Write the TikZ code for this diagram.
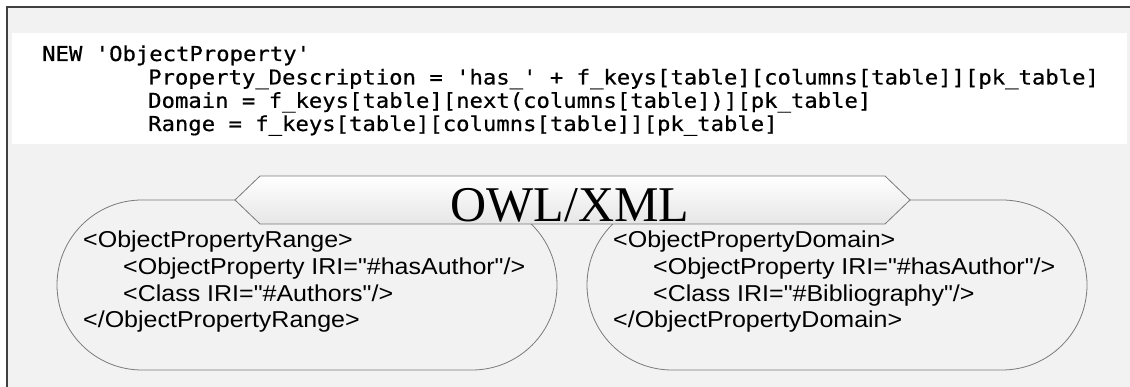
\documentclass[tikz,border=0pt]{standalone}
\usepackage{fontspec}
\setmainfont{Liberation Serif}
\setmonofont{DejaVu Sans Mono}[FakeStretch=1.085,FakeBold=0.6]
\newfontfamily\xmlfont{Liberation Sans}[FakeStretch=1.087,Ligatures=TeXOff]
\definecolor{panelgray}{HTML}{F2F2F2}
\definecolor{framegray}{HTML}{404040}
\definecolor{edgegray}{HTML}{7A7A7A}
\definecolor{bannerlow}{HTML}{E6E6E6}
\newcommand{\codeindent}{\phantom{00000000}}

\begin{document}
\begin{tikzpicture}[x=1pt,y=-1pt]
      \tikzset{every node/.style={inner sep=0pt},
        codeline/.style={anchor=base west, font=\ttfamily\fontsize{20.5}{23}\selectfont},
        xmlline/.style={anchor=base west, font=\xmlfont\fontsize{23}{27}\selectfont},
        pill/.style={draw=edgegray, fill=panelgray, line width=0.8pt, rounded corners=85pt},
        banner/.style={draw=edgegray, line width=0.8pt, top color=white, bottom color=bannerlow}}
      \useasboundingbox (0,0) rectangle (1130,387);
      \fill [panelgray] (7,7) rectangle (1130,387);
      \draw [framegray, line width=1.2pt] (1130,7) -- (7,7) -- (7,387);
      \fill [white] (12,33) rectangle (1127,144);
      \node [codeline] (new) at (42,61) {NEW 'ObjectProperty'};
      \node [codeline] (desc) at (148,84.5) {Property\_Description = 'has\_' + f\_keys[table][columns[table]][pk\_table]};
      \node [codeline] (domain) at (148,107.8) {Domain = f\_keys[table][next(columns[table])][pk\_table]};
      \node [codeline] (range) at (148,131) {Range = f\_keys[table][columns[table]][pk\_table]};
      \draw [pill] (57,200) rectangle (557,370);
      \draw [pill] (587,200) rectangle (1087,370);
      \draw [banner] (235,200) -- (260,176) -- (885,176) -- (910,200) -- (885,224) -- (260,224) -- cycle;
      \node [anchor=base, font=\fontsize{50}{50}\selectfont] (owl) at (570,222) {OWL/XML};
      \node [xmlline] (rangeopen) at (83,248) {<ObjectPropertyRange>};
      \node [xmlline] (rangeprop) at (123,274.7) {<ObjectProperty IRI="\#hasAuthor"/>};
      \node [xmlline] (rangeclass) at (123,301.4) {<Class IRI="\#Authors"/>};
      \node [xmlline] (rangeclose) at (83,328) {</ObjectPropertyRange>};
      \node [xmlline] (domainopen) at (613,248) {<ObjectPropertyDomain>};
      \node [xmlline] (domainprop) at (653,274.7) {<ObjectProperty IRI="\#hasAuthor"/>};
      \node [xmlline] (domainclass) at (653,301.4) {<Class IRI="\#Bibliography"/>};
      \node [xmlline] (domainclose) at (613,328) {</ObjectPropertyDomain>};
    \end{tikzpicture}
\end{document}
